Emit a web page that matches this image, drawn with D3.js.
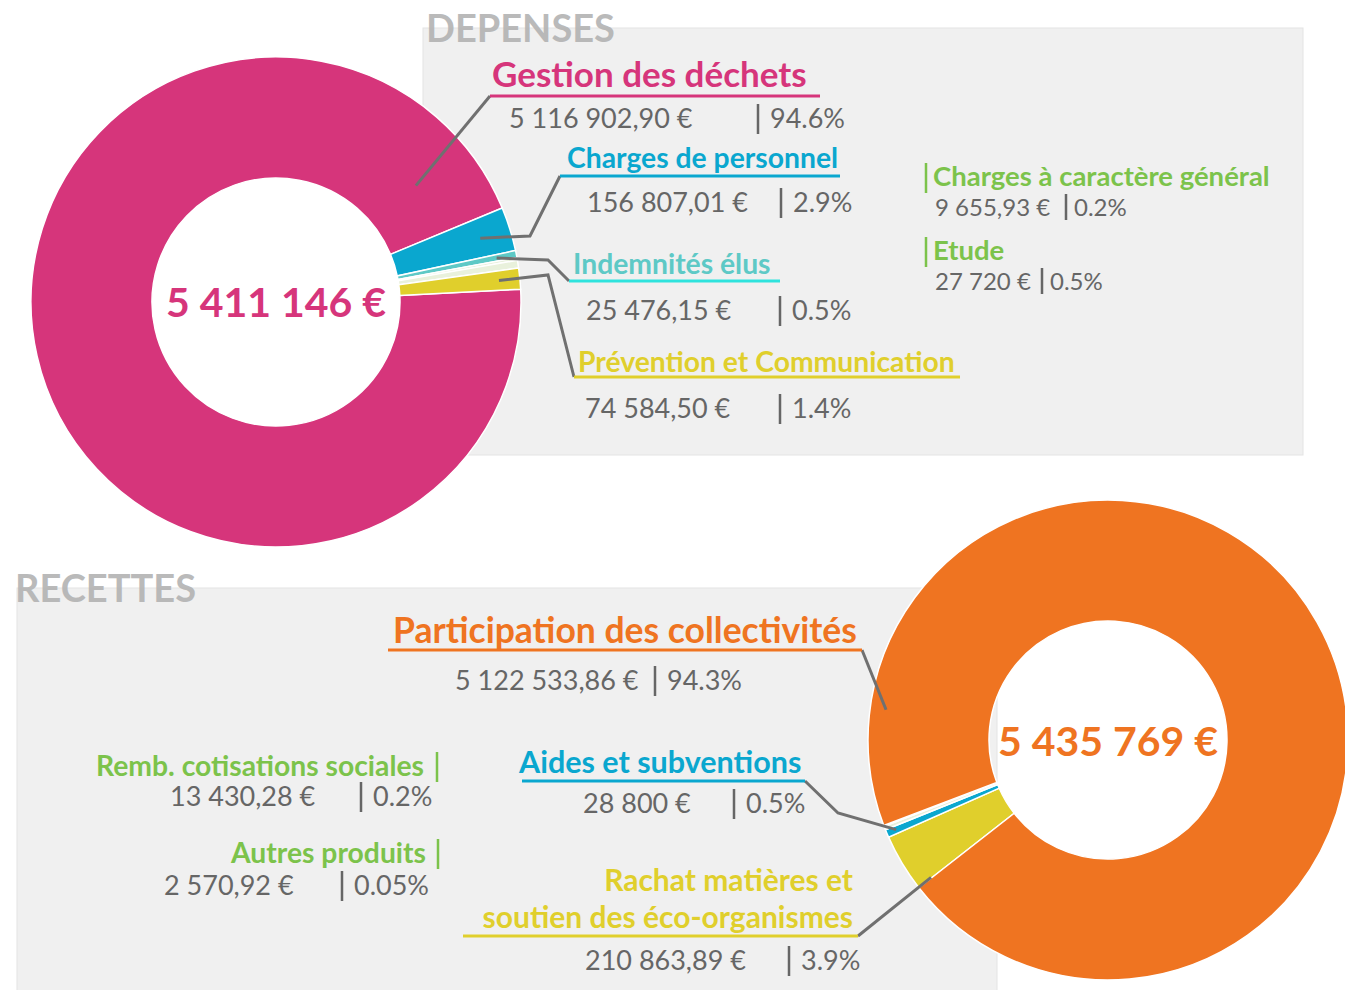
<!DOCTYPE html>
<html>
<head>
<meta charset="utf-8">
<script src="https://cdn.jsdelivr.net/npm/d3@7"></script>
<style>
  body { margin: 0; background: #fff; }
  svg { display: block; font-family: Lato, "Open Sans", sans-serif; }
</style>
</head>
<body>
<svg id="chart" width="1345" height="990"></svg>
<script>
// DEPENSES (clockwise order in the ring)
const depCategories = ['Gestion des déchets', 'Charges de personnel', 'Indemnités élus',
  'Charges à caractère général', 'Etude', 'Prévention et Communication'];
const depValues = [5116902.90, 156807.01, 25476.15, 9655.93, 27720, 74584.50];
const depAmounts = ['5 116 902,90 €', '156 807,01 €', '25 476,15 €', '9 655,93 €', '27 720 €', '74 584,50 €'];
const depPercents = ['94.6%', '2.9%', '0.5%', '0.2%', '0.5%', '1.4%'];
const depTotal = '5 411 146 €';

// RECETTES (clockwise order in the ring)
const recCategories = ['Rachat matières et soutien des éco-organismes', 'Aides et subventions',
  'Remb. cotisations sociales', 'Autres produits', 'Participation des collectivités'];
const recValues = [210863.89, 28800, 13430.28, 2570.92, 5122533.86];
const recAmounts = ['210 863,89 €', '28 800 €', '13 430,28 €', '2 570,92 €', '5 122 533,86 €'];
const recPercents = ['3.9%', '0.5%', '0.2%', '0.05%', '94.3%'];
const recTotal = '5 435 769 €';

const COLORS = {
  pink: '#d6357b', blue: '#0aa7cf', teal: '#5ec9c6', cyan: '#2ee3dd', yellow: '#e0cf2c',
  green: '#7cc34b', paleGreen: '#e9f1dc', orange: '#ef7421', gray: '#666', leader: '#707070',
  panel: '#f0f0f0', title: '#b3b3b3'
};
const depColors = [COLORS.pink, COLORS.blue, COLORS.teal, COLORS.paleGreen, COLORS.paleGreen, COLORS.yellow];
const recColors = [COLORS.yellow, COLORS.blue, COLORS.paleGreen, COLORS.paleGreen, COLORS.orange];

const deg = Math.PI / 180;
const svg = d3.select('#chart');

// panels + titles
svg.append('rect').attr('x', 423).attr('y', 28).attr('width', 880).attr('height', 427)
  .attr('fill', COLORS.panel).attr('stroke', '#e4e4e4');
svg.append('rect').attr('x', 17).attr('y', 588).attr('width', 980).attr('height', 410)
  .attr('fill', COLORS.panel).attr('stroke', '#e4e4e4');
svg.append('text').attr('x', 426).attr('y', 42).attr('font-size', 38).attr('font-weight', 700)
  .attr('fill', COLORS.title).attr('opacity', 0.9).text('DEPENSES');
svg.append('text').attr('x', 15).attr('y', 602).attr('font-size', 38).attr('font-weight', 700)
  .attr('fill', COLORS.title).attr('opacity', 0.9).text('RECETTES');

function donut(cx, cy, r0, r1, values, colors, startDeg) {
  const pie = d3.pie().sort(null).startAngle(startDeg * deg).endAngle(startDeg * deg + 2 * Math.PI);
  const arcs = pie(values);
  const arc = d3.arc().innerRadius(r0).outerRadius(r1);
  const g = svg.append('g').attr('transform', `translate(${cx},${cy})`);
  g.selectAll('path').data(arcs).enter().append('path')
    .attr('d', arc)
    .attr('fill', (d, i) => colors[i])
    .attr('stroke', '#fff').attr('stroke-width', 1.5);
  // point at given angle/radius in page coords
  const at = (a, r) => [cx + r * Math.sin(a), cy - r * Math.cos(a)];
  return { arcs, at };
}

function leader(points) {
  svg.append('path').attr('d', d3.line()(points))
    .attr('fill', 'none').attr('stroke', COLORS.leader).attr('stroke-width', 3);
}
function underline(x1, x2, y, color) {
  svg.append('line').attr('x1', x1).attr('x2', x2).attr('y1', y).attr('y2', y)
    .attr('stroke', color).attr('stroke-width', 3);
}
function label(x, y, text, color, size, weight, anchor) {
  svg.append('text').attr('x', x).attr('y', y).attr('font-size', size)
    .attr('font-weight', weight || 400).attr('fill', color)
    .attr('text-anchor', anchor || 'start').text(text);
}
function bar(x, y, h, color) {
  svg.append('line').attr('x1', x).attr('x2', x).attr('y1', y - h).attr('y2', y + 6)
    .attr('stroke', color).attr('stroke-width', 2.5);
}
// amount + "| xx%" pair
function figures(x, y, amount, barX, pct, size) {
  label(x, y, amount, COLORS.gray, size || 27);
  bar(barX, y, 24, COLORS.gray);
  label(barX + 12, y, pct, COLORS.gray, size || 27);
}

// ---------- DEPENSES donut ----------
const dep = donut(276, 302, 124, 245, depValues, depColors, 87);
const da = dep.arcs;
const mid = d => (d.startAngle + d.endAngle) / 2;

// Gestion des déchets
leader([dep.at(da[0].endAngle - 0.3, 182), [490, 96]]);
underline(490, 820, 96, COLORS.pink);
label(492, 87, depCategories[0], COLORS.pink, 35, 700);
figures(509, 128, depAmounts[0], 758, depPercents[0]);

// Charges de personnel
leader([dep.at(mid(da[1]), 214), [530, 236], [560, 176]]);
underline(560, 840, 176, COLORS.blue);
label(567, 168, depCategories[1], COLORS.blue, 28.3, 700);
figures(587, 212, depAmounts[1], 781, depPercents[1]);

// Indemnités élus
leader([dep.at(mid(da[2]), 225), [548, 260], [569, 281]]);
underline(569, 780, 281, COLORS.cyan);
label(573, 274, depCategories[2], COLORS.teal, 28.3, 700);
figures(586, 320, depAmounts[2], 780, depPercents[2]);

// Prévention et Communication
leader([dep.at(mid(da[5]), 224), [548, 275], [574, 377]]);
underline(574, 960, 377, COLORS.yellow);
label(578, 372, depCategories[5], COLORS.yellow, 28.3, 700);
figures(585, 418, depAmounts[5], 780, depPercents[5]);

// Charges à caractère général / Etude
bar(926, 187, 24, COLORS.green); label(933, 186, depCategories[3], COLORS.green, 27.5, 700);
label(935, 216, depAmounts[3], COLORS.gray, 24);
bar(1066, 214, 20, COLORS.gray); label(1074, 216, depPercents[3], COLORS.gray, 24);
bar(926, 261, 24, COLORS.green); label(933, 260, depCategories[4], COLORS.green, 27.5, 700);
label(935, 290, depAmounts[4], COLORS.gray, 24);
bar(1042, 288, 20, COLORS.gray); label(1050, 290, depPercents[4], COLORS.gray, 24);

label(276, 317, depTotal, COLORS.pink, 41, 700, 'middle');

// ---------- RECETTES donut ----------
const rec = donut(1108, 740, 119, 240, recValues, recColors, 232);
const ra = rec.arcs;

// Participation des collectivités
leader([rec.at(ra[4].startAngle + 0.5, 224), [862, 650]]);
underline(388, 862, 650, COLORS.orange);
label(393, 643, recCategories[4], COLORS.orange, 35.5, 700);
figures(455, 690, recAmounts[4], 655, recPercents[4]);

// Aides et subventions
leader([rec.at(mid(ra[1]), 230), [838, 813], [805, 781]]);
underline(522, 805, 781, COLORS.blue);
label(519, 773, recCategories[1], COLORS.blue, 30.5, 700);
figures(583, 813, recAmounts[1], 734, recPercents[1]);

// Rachat matières
leader([rec.at(mid(ra[0]) - 0.12, 224), [858, 936]]);
underline(463, 858, 936, COLORS.yellow);
label(853, 891, 'Rachat matières et', COLORS.yellow, 30, 700, 'end');
label(853, 928, 'soutien des éco-organismes', COLORS.yellow, 30, 700, 'end');
figures(585, 970, recAmounts[0], 789, recPercents[0]);

// Remb. cotisations sociales / Autres produits
label(424, 776, recCategories[2], COLORS.green, 28.3, 700, 'end');
bar(437, 776, 24, COLORS.green);
figures(170, 806, recAmounts[2], 361, recPercents[2]);
label(426, 863, recCategories[3], COLORS.green, 28.3, 700, 'end');
bar(438, 863, 24, COLORS.green);
figures(164, 895, recAmounts[3], 342, recPercents[3]);

label(1108, 756, recTotal, COLORS.orange, 41, 700, 'middle');
</script>
</body>
</html>
